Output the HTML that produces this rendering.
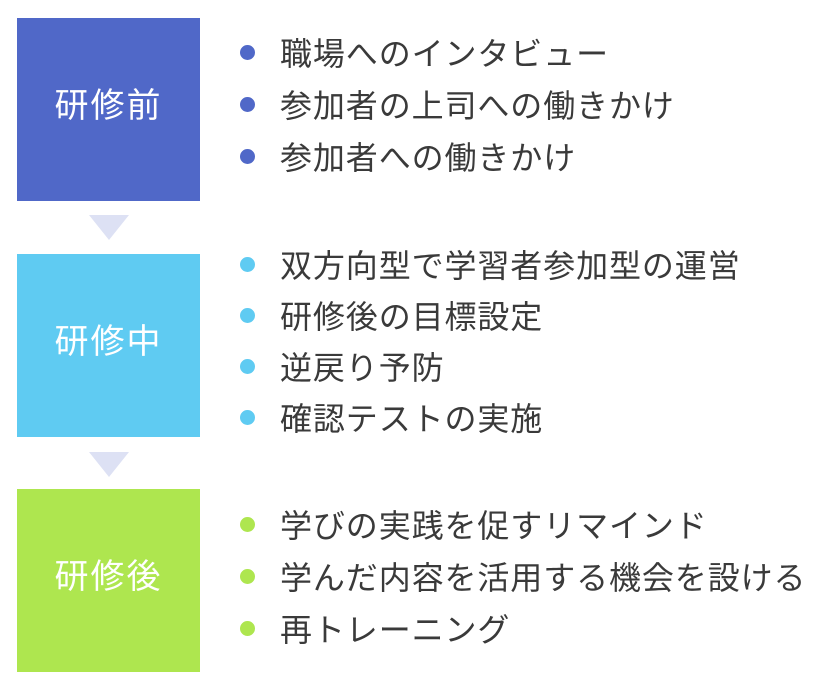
<!DOCTYPE html><html><head><meta charset="utf-8"><style>
body{margin:0;width:837px;height:687px;background:#fff;position:relative;font-family:"Liberation Sans","Noto Sans CJK JP",sans-serif;overflow:hidden}
.b{position:absolute;left:17px;width:183px;height:183px;color:#fff;font-size:34px;letter-spacing:2px;display:flex;align-items:center;justify-content:center}
.b span{position:relative;top:-7px}
.t{position:absolute;left:89px;width:0;height:0;border-left:20px solid transparent;border-right:20px solid transparent;border-top:25px solid #dde1f4}
.l{position:absolute;left:280px;font-size:32px;letter-spacing:0.9px;color:#3a3a3a;line-height:40px;white-space:nowrap}
.d{position:absolute;left:240px;width:15px;height:15px;border-radius:50%}
</style></head><body>
<div class="b" style="top:18px;background:#5068c8"><span>研修前</span></div>
<div class="t" style="top:215px"></div>
<div class="b" style="top:254px;background:#5fcbf2"><span>研修中</span></div>
<div class="t" style="top:452px"></div>
<div class="b" style="top:489px;background:#aee64f"><span>研修後</span></div>

<div class="d" style="top:45px;background:#5068c8"></div><div class="l" style="top:34px">職場へのインタビュー</div>
<div class="d" style="top:97px;background:#5068c8"></div><div class="l" style="top:86px">参加者の上司への働きかけ</div>
<div class="d" style="top:149px;background:#5068c8"></div><div class="l" style="top:138px">参加者への働きかけ</div>

<div class="d" style="top:257px;background:#5fcbf2"></div><div class="l" style="top:246px">双方向型で学習者参加型の運営</div>
<div class="d" style="top:308px;background:#5fcbf2"></div><div class="l" style="top:297px">研修後の目標設定</div>
<div class="d" style="top:359px;background:#5fcbf2"></div><div class="l" style="top:348px">逆戻り予防</div>
<div class="d" style="top:410px;background:#5fcbf2"></div><div class="l" style="top:399px">確認テストの実施</div>

<div class="d" style="top:517px;background:#aee64f"></div><div class="l" style="top:506px">学びの実践を促すリマインド</div>
<div class="d" style="top:569px;background:#aee64f"></div><div class="l" style="top:558px">学んだ内容を活用する機会を設ける</div>
<div class="d" style="top:621px;background:#aee64f"></div><div class="l" style="top:610px">再トレーニング</div>
</body></html>
